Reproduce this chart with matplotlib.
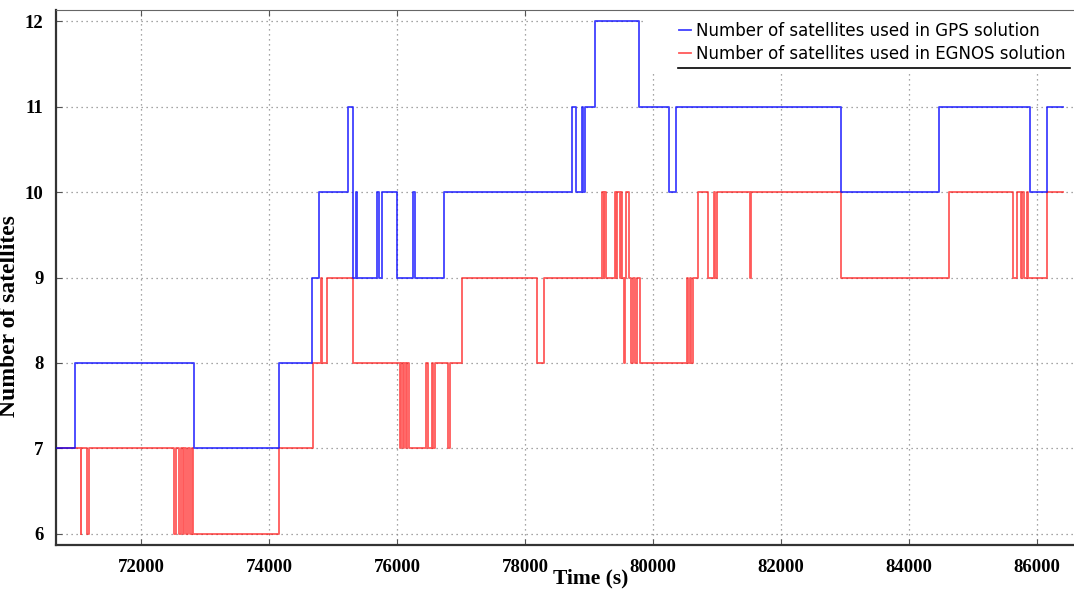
import matplotlib
matplotlib.use("Agg")
import matplotlib.pyplot as plt
from matplotlib.lines import Line2D
from matplotlib.patches import Rectangle

# Change points of each series: time (s) at which the count switches, and new count
gps_times = [70680, 70970, 72830, 74160, 74670, 74780, 75230, 75320, 75360, 75380,
             75690, 75720, 75770, 76000, 76250, 76280, 76730, 78730, 78800, 78890,
             78910, 78940, 79090, 79780, 80250, 80360, 82940, 84470, 85890, 86160, 86400]
gps_counts = [7, 8, 7, 8, 9, 10, 11, 9, 10, 9,
              10, 9, 10, 9, 10, 9, 10, 11, 10, 11,
              10, 11, 12, 11, 10, 11, 10, 11, 10, 11, 11]

egnos_times = [70680, 71060, 71070, 71150, 71180, 72520, 72540, 72600, 72620, 72650,
               72670, 72710, 72730, 72770, 72790, 72810, 74160, 74680, 74810, 74830,
               74900, 75310, 76040, 76060, 76090, 76110, 76140, 76160, 76190, 76460,
               76490, 76550, 76570, 76600, 76800, 76830, 77020, 78180, 78290, 79200,
               79230, 79240, 79270, 79410, 79420, 79440, 79480, 79500, 79520, 79540,
               79560, 79580, 79630, 79660, 79690, 79720, 79750, 79790, 80530, 80550,
               80580, 80600, 80620, 80710, 80860, 80950, 80970, 81000, 81520, 81530,
               82930, 84630, 85630, 85680, 85750, 85770, 85800, 85840, 85860, 86150,
               86400]
egnos_counts = [7, 6, 7, 6, 7, 6, 7, 6, 7, 6,
                7, 6, 7, 6, 7, 6, 7, 8, 9, 8,
                9, 8, 7, 8, 7, 8, 7, 8, 7, 8,
                7, 8, 7, 8, 7, 8, 9, 8, 9, 10,
                9, 10, 9, 10, 9, 10, 9, 10, 9, 8,
                9, 10, 9, 8, 9, 8, 9, 8, 9, 8,
                9, 8, 9, 10, 9, 10, 9, 10, 9, 10,
                9, 10, 9, 10, 9, 10, 9, 10, 9, 10,
                10]

x_ticks = [72000, 74000, 76000, 78000, 80000, 82000, 84000, 86000]
y_ticks = [6, 7, 8, 9, 10, 11, 12]

W, H = 1074, 594
fig = plt.figure(figsize=(W / 100, H / 100), dpi=100)
ax = fig.add_axes([56 / W, 1 - 545 / H, 1017 / W, 535 / H])
ax.set_axisbelow(True)

ax.step(gps_times, gps_counts, where="post", color="blue", alpha=0.75, lw=1.3,
        label="Number of satellites used in GPS solution", zorder=3)
ax.step(egnos_times, egnos_counts, where="post", color="red", alpha=0.65, lw=1.3,
        label="Number of satellites used in EGNOS solution", zorder=2)

ax.set_xlim(70672, 86562)
ax.set_ylim(5.871, 12.129)
ax.set_xticks(x_ticks)
ax.set_yticks(y_ticks)

for lab in ax.get_xticklabels() + ax.get_yticklabels():
    lab.set_fontfamily("Liberation Serif")
    lab.set_fontweight("bold")
    lab.set_fontsize(13.5)

ax.tick_params(axis="both", direction="in", length=4, width=0.8, color="#555555", top=True)
ax.tick_params(axis="x", pad=10)
ax.tick_params(axis="y", pad=9)
ax.grid(True, linestyle=(0, (1, 3)), color="#888888", linewidth=0.9)

ax.set_xlabel("Time (s)", fontsize=15.5, family="Liberation Serif", weight="bold")
ax.xaxis.set_label_coords(0.526, -0.043)
ax.set_ylabel("Number of satellites", fontsize=17, family="Liberation Serif", weight="bold")
ax.yaxis.set_label_coords(-0.035, 0.428)

for side in ("left", "bottom"):
    ax.spines[side].set_linewidth(1.6)
    ax.spines[side].set_color("#333333")
ax.spines["top"].set_linewidth(0.8)
ax.spines["top"].set_color("#666666")
ax.spines["right"].set_visible(False)

# White backing behind the legend, hiding the grid there
ax.add_patch(Rectangle((645 / W, 1 - 71 / H), 428 / W, 60 / H,
                       transform=fig.transFigure, facecolor="white",
                       edgecolor="none", zorder=1.0, clip_on=False))

leg = ax.legend(loc="upper left", bbox_to_anchor=(679 / W, 1 - 22 / H),
                bbox_transform=fig.transFigure, frameon=False,
                handlelength=0.7, handletextpad=0.35, borderpad=0, borderaxespad=0,
                labelspacing=0.3, prop={"family": "DejaVu Sans", "size": 12})
leg.set_zorder(5)

ax.add_line(Line2D([678 / W, 1070 / W], [1 - 68 / H, 1 - 68 / H],
                   transform=fig.transFigure, color="black", lw=1.2, zorder=6,
                   clip_on=False))

fig.savefig("out.png", dpi=100)
